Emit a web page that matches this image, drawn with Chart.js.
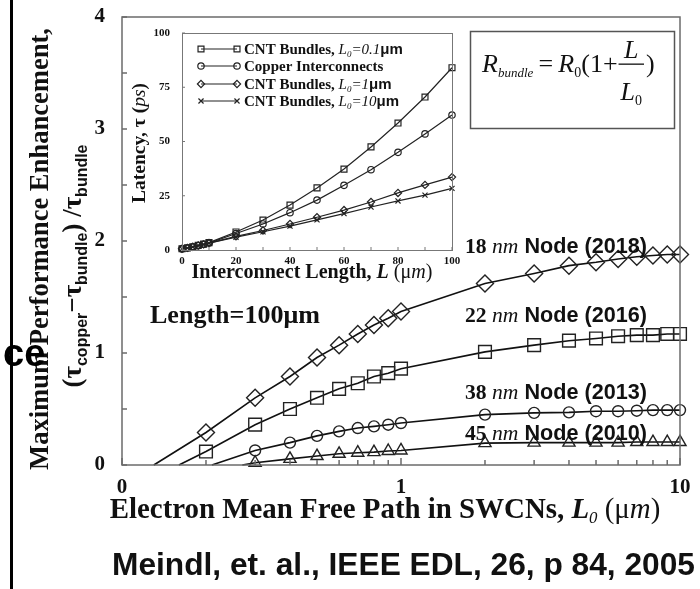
<!DOCTYPE html>
<html>
<head>
<meta charset="utf-8">
<script src="https://cdn.jsdelivr.net/npm/chart.js@4.4.1/dist/chart.umd.min.js"></script>
<style>
  body { margin: 0; background: #fff; }
  #wrap { position: relative; width: 700px; height: 589px; }
  canvas { position: absolute; left: 0; top: 0; }
</style>
</head>
<body>
<div id="wrap">
  <canvas id="main" width="700" height="589"></canvas>
  <canvas id="inset" width="700" height="589"></canvas>
</div>
<script>
// ---- main plot: enhancement vs. electron mean free path (um), log axis
const mfp = [0.2, 0.3, 0.4, 0.5, 0.6, 0.7, 0.8, 0.9, 1, 2, 3, 4, 5, 6, 7, 8, 9, 10];
const node18 = [0.29, 0.60, 0.79, 0.96, 1.07, 1.17, 1.25, 1.31, 1.37, 1.62, 1.71, 1.78, 1.81, 1.84, 1.86, 1.87, 1.88, 1.88];
const node22 = [0.12, 0.36, 0.50, 0.60, 0.68, 0.73, 0.79, 0.82, 0.86, 1.01, 1.07, 1.11, 1.13, 1.15, 1.16, 1.16, 1.17, 1.17];
// 38 and 45 nm start at 0.3 um
const node38 = [0.13, 0.20, 0.26, 0.30, 0.33, 0.345, 0.36, 0.375, 0.45, 0.465, 0.47, 0.48, 0.48, 0.485, 0.49, 0.49, 0.49];
const node45 = [0.02, 0.055, 0.08, 0.10, 0.11, 0.115, 0.125, 0.13, 0.195, 0.20, 0.20, 0.20, 0.20, 0.205, 0.205, 0.205, 0.205];
const zeroAt = [0.13, 0.16, 0.21, 0.27];   // where each curve leaves the axis (no marker)
const nodeNm = ['18', '22', '38', '45'];
const nodeYear = ['2018', '2016', '2013', '2010'];
const xTicks = [0.1, 0.2, 0.3, 0.4, 0.5, 0.6, 0.7, 0.8, 0.9, 1, 2, 3, 4, 5, 6, 7, 8, 9, 10];
const xLabels = { 0.1: '0', 1: '1', 10: '10' };
const yTicks = [0, 0.5, 1, 1.5, 2, 2.5, 3, 3.5, 4];

// ---- inset: latency (ps) vs interconnect length (um)
const wireLen = [0, 2, 4, 6, 8, 10, 20, 30, 40, 50, 60, 70, 80, 90, 100];
const cnt01 = [0.6, 1.0, 1.5, 2.1, 2.7, 3.4, 8.3, 13.8, 20.7, 28.6, 37.3, 47.5, 58.5, 70.5, 84.0];
const copper = [0.5, 0.9, 1.4, 2.0, 2.6, 3.2, 7.6, 12.0, 17.2, 23.0, 29.8, 37.0, 45.0, 53.5, 62.2];
const cnt1 = [0.6, 1.0, 1.5, 2.1, 2.6, 3.2, 6.3, 9.0, 12.0, 15.1, 18.4, 22.1, 26.3, 30.0, 33.6];
const cnt10 = [0.5, 0.9, 1.4, 2.0, 2.5, 3.1, 5.9, 8.4, 11.0, 13.9, 16.8, 19.8, 22.6, 25.3, 28.4];
const insetL0 = ['0.1', null, '1', '10'];
const insetXTicks = [0, 10, 20, 30, 40, 50, 60, 70, 80, 90, 100];
const insetYTicks = [0, 25, 50, 75, 100];

const SERIF = "'Liberation Serif', 'Times New Roman', serif";
const SANS = "'Liberation Sans', Arial, sans-serif";
const INK = '#111';

function P(t, st, z, f, dy) { return { t, st: st || '', z, f: f || SERIF, dy: dy || 0 }; }

// draw a row of differently styled text pieces; optional fit to a width
function runs(ctx, parts, x, y, fitW, align) {
  const widthAt = k => parts.reduce((w, p) => {
    ctx.font = `${p.st} ${p.z * k}px ${p.f}`;
    return w + ctx.measureText(p.t).width;
  }, 0);
  const k = fitW ? fitW / widthAt(1) : 1;
  const w = widthAt(k);
  let cx = align === 'center' ? x - w / 2 : x;
  parts.forEach(p => {
    ctx.font = `${p.st} ${p.z * k}px ${p.f}`;
    ctx.fillText(p.t, cx, y + p.dy * k);
    cx += ctx.measureText(p.t).width;
  });
  return cx;
}

// keep the plot box where it is: no extra room for half labels
const fixY = w => sc => { sc.width = w; sc.paddingTop = 0; sc.paddingBottom = 0; };
const fixX = h => sc => { sc.height = h; sc.paddingLeft = 0; sc.paddingRight = 0; };

const mainDecor = {
  id: 'mainDecor',
  afterDraw(chart) {
    const { ctx, chartArea: a, scales: { x, y } } = chart;
    ctx.save();
    ctx.fillStyle = '#000';
    ctx.fillRect(10, 0, 3, 589);

    ctx.strokeStyle = '#6b6b6b';
    ctx.lineWidth = 1.5;
    ctx.strokeRect(a.left, a.top, a.right - a.left, a.bottom - a.top);
    ctx.beginPath();
    xTicks.forEach(v => {
      const px = x.getPixelForValue(v);
      ctx.moveTo(px, a.bottom);
      ctx.lineTo(px, a.bottom - (xLabels[v] ? 7 : 5));
    });
    yTicks.forEach(v => {
      const py = y.getPixelForValue(v);
      ctx.moveTo(a.left, py);
      ctx.lineTo(a.left + 5, py);
    });
    ctx.stroke();

    ctx.fillStyle = INK;
    ctx.textBaseline = 'alphabetic';
    // y title, two lines
    ctx.save();
    ctx.translate(40, 249);
    ctx.rotate(-Math.PI / 2);
    runs(ctx, [P('Maximum Performance Enhancement,', 'bold', 25)], 0, 8, 442, 'center');
    ctx.restore();
    ctx.save();
    ctx.translate(75, 266);
    ctx.rotate(-Math.PI / 2);
    runs(ctx, [P('(τ', 'bold', 22), P('copper', 'bold', 13, SANS, 5), P('−τ', 'bold', 22),
               P('bundle', 'bold', 13, SANS, 5), P(') /τ', 'bold', 22), P('bundle', 'bold', 13, SANS, 5)],
         0, 6, 243, 'center');
    ctx.restore();

    ctx.fillStyle = '#000';
    ctx.font = `bold 38px ${SANS}`;
    ctx.fillText('ce', 3, 366);
    ctx.fillStyle = INK;

    // x title
    runs(ctx, [P('Electron Mean Free Path in SWCNs, ', 'bold', 24), P('L', 'bold italic', 24),
               P('0', 'italic', 14, SERIF, 4), P(' (', '', 24), P('μ', '', 24), P('m', 'italic', 24), P(')', '', 24)],
         385, 518, 551, 'center');

    // node labels
    const base = [253, 322, 399, 440];
    nodeNm.forEach((n, i) => {
      runs(ctx, [P(n + ' ', 'bold', 21), P('nm', 'italic', 21), P(' Node (' + nodeYear[i] + ')', 'bold', 21, SANS)],
           465, base[i], 182);
    });
    runs(ctx, [P('Length=100μm', 'bold', 25)], 150, 323, 170);

    // equation box
    ctx.strokeStyle = '#555';
    ctx.lineWidth = 1.5;
    ctx.strokeRect(470.5, 31.5, 204, 97);
    let ex = runs(ctx, [P('R', 'italic', 26), P('bundle', 'italic', 13, SERIF, 5), P('\u2009=\u2009', '', 26),
                        P('R', 'italic', 26), P('0', '', 14, SERIF, 5), P('(1+', '', 26)], 482, 72);
    ctx.font = `italic 26px ${SERIF}`;
    const lw = ctx.measureText('L').width;
    ctx.font = `14px ${SERIF}`;
    const bw = lw + ctx.measureText('0').width + 4;
    ctx.fillRect(ex + 1, 63.5, bw, 1.3);
    runs(ctx, [P('L', 'italic', 26)], ex + 1 + bw / 2, 58, 0, 'center');
    runs(ctx, [P('L', 'italic', 26), P('0', '', 14, SERIF, 5)], ex + 1 + bw / 2, 100, 0, 'center');
    runs(ctx, [P(')', '', 26)], ex + bw + 3, 72);

    runs(ctx, [P('Meindl, et. al., IEEE EDL, 26, p 84, 2005', 'bold', 24, SANS)], 112, 575, 583);
    ctx.restore();
  }
};

const mainStyles = [
  { name: '18 nm', vals: node18, from: 0, shape: 'rectRot', r: 8.5 },
  { name: '22 nm', vals: node22, from: 0, shape: 'rect', r: 9 },
  { name: '38 nm', vals: node38, from: 1, shape: 'circle', r: 5.5 },
  { name: '45 nm', vals: node45, from: 1, shape: 'triangle', r: 7 }
];

new Chart(document.getElementById('main'), {
  type: 'line',
  data: {
    datasets: mainStyles.map((s, i) => ({
      label: s.name,
      data: [{ x: zeroAt[i], y: 0 }].concat(s.vals.map((v, j) => ({ x: mfp[j + s.from], y: v }))),
      borderColor: INK,
      borderWidth: 1.6,
      pointStyle: s.shape,
      pointRadius: [0].concat(s.vals.map(() => s.r)),
      pointBorderColor: '#222',
      pointBackgroundColor: 'rgba(0,0,0,0)',
      pointBorderWidth: 1.4,
      tension: 0,
      clip: false
    }))
  },
  options: {
    responsive: false,
    animation: false,
    layout: { padding: { left: 0, top: 17, right: 20, bottom: 0 } },
    plugins: { legend: { display: false }, tooltip: { enabled: false } },
    scales: {
      x: {
        type: 'logarithmic', min: 0.1, max: 10,
        afterBuildTicks: sc => { sc.ticks = xTicks.map(v => ({ value: v })); },
        afterFit: fixX(124),
        grid: { display: false, drawTicks: false }, border: { display: false },
        ticks: {
          autoSkip: false, maxRotation: 0, padding: 10, color: INK,
          font: { family: SERIF, size: 21, weight: 'bold' },
          callback: v => xLabels[v] || ''
        }
      },
      y: {
        min: 0, max: 4,
        afterFit: fixY(122),
        grid: { display: false, drawTicks: false }, border: { display: false },
        ticks: { stepSize: 1, padding: 17, color: INK, font: { family: SERIF, size: 21, weight: 'bold' } }
      }
    }
  },
  plugins: [mainDecor]
});

// ---- inset
const insetDecor = {
  id: 'insetDecor',
  afterDraw(chart) {
    const { ctx, chartArea: a, scales: { x, y } } = chart;
    ctx.save();
    ctx.strokeStyle = '#777';
    ctx.lineWidth = 1;
    ctx.strokeRect(a.left + 0.5, a.top + 0.5, a.right - a.left, a.bottom - a.top);
    ctx.beginPath();
    insetXTicks.forEach(v => { const px = x.getPixelForValue(v); ctx.moveTo(px, a.bottom); ctx.lineTo(px, a.bottom - 3); });
    insetYTicks.forEach(v => { const py = y.getPixelForValue(v); ctx.moveTo(a.left, py); ctx.lineTo(a.left + 3, py); });
    ctx.stroke();

    // legend: line with a marker at each end
    const rowY = [49, 66, 84, 101];
    chart.data.datasets.forEach((ds, i) => {
      const yy = rowY[i];
      ctx.strokeStyle = '#222';
      ctx.fillStyle = 'rgba(0,0,0,0)';
      ctx.lineWidth = 1.2;
      ctx.beginPath(); ctx.moveTo(201, yy); ctx.lineTo(237, yy); ctx.stroke();
      [201, 237].forEach(px => Chart.helpers.drawPoint(ctx,
        { pointStyle: ds.pointStyle, rotation: 0, radius: ds.pointRadius, borderWidth: 1.2 }, px, yy));
      ctx.fillStyle = INK;
      const parts = insetL0[i] === null
        ? [P('Copper Interconnects', 'bold', 15)]
        : [P('CNT Bundles, ', 'bold', 15), P('L', 'italic', 15), P('0', 'italic', 9, SERIF, 3),
           P('=' + insetL0[i], 'italic', 15), P('μm', 'bold', 15, SANS)];
      runs(ctx, parts, 244, yy + 5);
    });

    ctx.fillStyle = INK;
    ctx.save();
    ctx.translate(140, 143);
    ctx.rotate(-Math.PI / 2);
    runs(ctx, [P('Latency, τ (', 'bold', 16), P('ps', 'italic', 16), P(')', 'bold', 16)], 0, 5, 120, 'center');
    ctx.restore();
    runs(ctx, [P('Interconnect Length, ', 'bold', 18), P('L', 'bold italic', 18), P(' (', '', 18),
               P('μ', '', 18), P('m', 'italic', 18), P(')', '', 18)], 312, 278, 241, 'center');
    ctx.restore();
  }
};

const insetStyles = [
  { name: 'CNT Bundles, L0=0.1um', vals: cnt01, shape: 'rect', r: 4.2 },
  { name: 'Copper Interconnects', vals: copper, shape: 'circle', r: 3.2 },
  { name: 'CNT Bundles, L0=1um', vals: cnt1, shape: 'rectRot', r: 3.6 },
  { name: 'CNT Bundles, L0=10um', vals: cnt10, shape: 'crossRot', r: 3.6 }
];

new Chart(document.getElementById('inset'), {
  type: 'line',
  data: {
    datasets: insetStyles.map(s => ({
      label: s.name,
      data: s.vals.map((v, j) => ({ x: wireLen[j], y: v })),
      borderColor: '#222',
      borderWidth: 1.2,
      pointStyle: s.shape,
      pointRadius: s.r,
      pointBorderColor: '#222',
      pointBackgroundColor: 'rgba(0,0,0,0)',
      pointBorderWidth: 1.2,
      tension: 0,
      clip: false
    }))
  },
  options: {
    responsive: false,
    animation: false,
    layout: { padding: { left: 120, top: 33, right: 248, bottom: 304 } },
    plugins: { legend: { display: false }, tooltip: { enabled: false } },
    scales: {
      x: {
        type: 'linear', min: 0, max: 100,
        afterFit: fixX(35),
        grid: { display: false, drawTicks: false }, border: { display: false },
        ticks: { stepSize: 20, maxRotation: 0, padding: 5, color: INK, font: { family: SERIF, size: 11, weight: 'bold' } }
      },
      y: {
        min: 0, max: 100,
        afterFit: fixY(62),
        grid: { display: false, drawTicks: false }, border: { display: false },
        ticks: { stepSize: 25, padding: 12, color: INK, font: { family: SERIF, size: 11, weight: 'bold' } }
      }
    }
  },
  plugins: [insetDecor]
});
</script>
</body>
</html>
